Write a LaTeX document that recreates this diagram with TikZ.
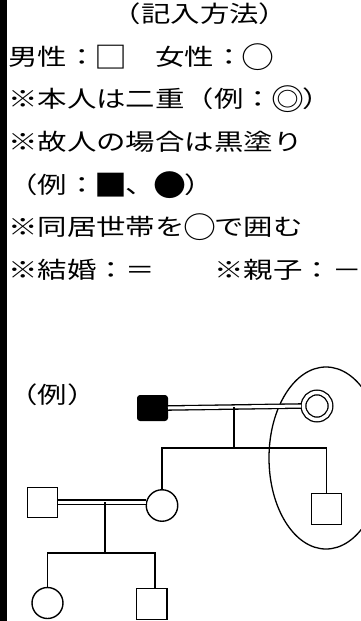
\documentclass[tikz,border=0pt]{standalone}
\usepackage{fontspec}
\usetikzlibrary{shapes.geometric}
\newfontfamily\jpfont{Noto Sans CJK JP}[FakeStretch=1.28]
\newcommand\symb[1]{\setbox0\hbox{#1}\makebox[\wd0][c]{\raisebox{-0.11em}{\scalebox{1.12}[1.3]{#1}}}}
\begin{document}
\begin{tikzpicture}[x=1pt,y=-1pt,
  txt/.style={anchor=west,inner sep=0pt,font=\jpfont\fontsize{23}{23}\selectfont,text height=0.88em,text depth=0.12em},
  ttl/.style={txt,anchor=center},
  male/.style={draw,line width=1.4pt,rectangle,inner sep=0pt},
  female/.style={draw,line width=1.4pt,circle,inner sep=0pt,minimum size=31.5pt},
  marr/.style={double,double distance=3pt,line width=1.3pt},
  kin/.style={line width=1.4pt},
  hh/.style={draw,line width=1.3pt,ellipse,inner sep=0pt}
]
\useasboundingbox (0,0) rectangle (361,621);
\fill[white] (0,0) rectangle (361,621);
\fill[black] (0,0) rectangle (7,621);

% legend text
\node[ttl] (t0) at (200,19) {（記入方法）};
\node[txt] (t1) at (8,62) {男性：\symb{□}　女性：\symb{○}};
\node[txt] (t2) at (8,104) {※本人は二重（例：\symb{◎}）};
\node[txt] (t3) at (8,147) {※故人の場合は黒塗り};
\node[txt] (t4) at (8,190) {（例：\symb{■}、\symb{●}）};
\node[txt] (t5) at (8,232) {※同居世帯を\symb{○}で囲む};
\node[txt] (t6) at (8,275) {※結婚：＝　　※親子：－};
\node[txt] (t7) at (8,400) {（例）};

% household ellipse
\node[hh,minimum width=114pt,minimum height=182pt] (house) at (326,458) {};

% generation 1
\node[male,fill=black,rounded corners=2.5pt,minimum width=29.6pt,minimum height=24.6pt] (gf) at (152.5,408) {};
\node[circle,draw,line width=1.3pt,double,double distance=3.4pt,inner sep=0pt,minimum size=27pt,outer sep=2.4pt] (gm) at (317,406) {};
\coordinate (m1) at (234,407);
\coordinate (b1) at (234,448);

% generation 2
\node[female] (mo) at (162,505.5) {};
\node[male,minimum width=29.6pt,minimum height=30.6pt] (so) at (326.5,509) {};
\node[male,minimum width=29.6pt,minimum height=29.6pt] (fa) at (42.5,502.5) {};
\coordinate (m2) at (105,502);
\coordinate (b2) at (105,553);
\coordinate (b2r) at (155,553);

% generation 3
\node[female,minimum size=31pt] (da) at (47.5,603) {};
\node[male,minimum width=30.6pt,minimum height=30.6pt] (gs) at (151.5,604) {};

% connectors
\draw[marr] (gf.east) -- (gm.west);
\draw[kin] (m1) -- (b1);
\draw[kin] (mo.north) -- (mo.north |- b1) -- (so.north |- b1) -- (so.north);
\draw[marr] (fa.east |- m2) -- (mo.west |- m2);
\draw[kin] (m2) -- (b2);
\draw[kin] (da.north) -- (da.north |- b2) -- (b2r) -- (b2r |- gs.north);
\end{tikzpicture}
\end{document}
